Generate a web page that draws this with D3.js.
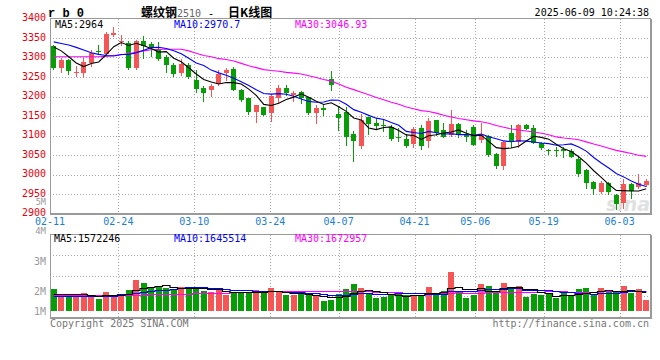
<!DOCTYPE html>
<html><head><meta charset="utf-8">
<script src="https://cdn.jsdelivr.net/npm/d3@7/dist/d3.min.js"></script>
<style>body{margin:0;background:#fff}svg{display:block}</style>
</head><body>
<svg id="c" width="660" height="360"></svg>
<script>
// ---------------- DATA ----------------
const dates = ["02-11","02-12","02-13","02-14","02-17","02-18","02-19","02-20","02-21","02-24","02-25","02-26","02-27","02-28",
"03-03","03-04","03-05","03-06","03-07","03-10","03-11","03-12","03-13","03-14","03-17","03-18","03-19","03-20","03-21","03-24","03-25","03-26","03-27","03-28","03-31",
"04-01","04-02","04-03","04-07","04-08","04-09","04-10","04-11","04-14","04-15","04-16","04-17","04-18","04-21","04-22","04-23","04-24","04-25","04-28","04-29","04-30",
"05-06","05-07","05-08","05-09","05-12","05-13","05-14","05-15","05-16","05-19","05-20","05-21","05-22","05-23","05-26","05-27","05-28","05-29","05-30",
"06-03","06-04","06-05","06-06","06-09"];
const open  = [3329,3273,3293,3261,3259,3287,3317,3309,3358,3340,3338,3273,3342,3334,3323,3300,3280,3261,3280,3242,3222,3216,3231,3260,3270,3217,3196,3160,3172,3157,3197,3221,3204,3211,3198,3157,3170,3244,3155,3160,3103,3073,3147,3131,3126,3123,3096,3092,3078,3119,3085,3140,3115,3102,3129,3102,3121,3089,3100,3052,3022,3106,3083,3126,3118,3080,3062,3063,3066,3060,3040,3011,2981,2956,2977,2948,2926,2975,2967,2974];
const high  = [3333,3299,3296,3278,3300,3320,3332,3366,3378,3357,3343,3344,3355,3339,3340,3306,3285,3296,3287,3268,3226,3233,3268,3274,3275,3219,3197,3178,3174,3206,3230,3230,3214,3214,3200,3177,3180,3266,3172,3172,3112,3155,3148,3146,3140,3126,3119,3103,3123,3126,3146,3140,3132,3166,3132,3115,3126,3132,3102,3055,3085,3126,3129,3129,3127,3083,3066,3070,3071,3065,3044,3013,2984,2983,2982,2951,2988,2979,3002,2988];
const low   = [3268,3260,3256,3250,3248,3276,3306,3306,3352,3329,3269,3269,3295,3302,3291,3261,3250,3252,3244,3210,3186,3200,3228,3240,3214,3187,3152,3131,3149,3134,3183,3202,3187,3180,3153,3129,3149,3214,3112,3074,3033,3065,3102,3114,3110,3085,3083,3069,3069,3063,3069,3100,3093,3097,3093,3083,3072,3080,3046,3015,3012,3068,3069,3115,3078,3064,3049,3045,3043,3042,2993,2964,2947,2951,2947,2910,2912,2938,2962,2968];
const close = [3274,3293,3266,3262,3289,3312,3314,3360,3364,3342,3274,3342,3329,3327,3297,3280,3257,3284,3250,3218,3209,3226,3258,3268,3217,3191,3161,3177,3153,3202,3221,3208,3208,3196,3157,3170,3166,3230,3146,3097,3085,3140,3129,3125,3124,3092,3093,3074,3117,3074,3138,3106,3097,3129,3102,3095,3076,3102,3050,3021,3083,3083,3126,3117,3082,3068,3060,3060,3061,3045,3002,2978,2962,2977,2955,2924,2975,2957,2977,2984];
const volume = [1834000,1310000,1310000,1327000,1454000,1310000,989000,1581000,1327000,1412000,1750000,2595000,2350000,1927000,1970000,1919000,1834000,2003000,2003000,1970000,
1690000,1581000,1919000,1352000,1496000,1496000,1581000,1775000,1496000,1919000,1631000,1293000,1352000,1412000,1352000,1268000,845000,930000,1412000,1860000,
2257000,1919000,1412000,1082000,1167000,1352000,1412000,1327000,1268000,1369000,2012000,1505000,1648000,3271000,1631000,1074000,1352000,2257000,2113000,1496000,
2342000,1919000,2113000,1158000,1437000,1336000,1378000,1082000,1488000,1226000,1843000,1919000,1336000,1919000,1564000,1564000,2050000,1488000,1843000,940000];
// moving-average values for the first days (earlier data not shown)
const ma5Head  = [3327,3317,3302,3286];
const ma10Head = [3340,3336,3332,3326,3319,3312,3308,3305,3304];
const ma30Head = [3302,3302,3302,3302,3302,3302,3302,3303,3305,3307,3310,3313,3317,3320,3321,3321,3321,3321,3317,3311,3305,3302,3297,3295,3291,3285,3279,3274,3269];
const vma5Head  = [1410000,1400000,1400000,1410000];
const vma10Head = [1240000,1240000,1240000,1250000,1250000,1260000,1260000,1270000,1280000];
const vma30Head = [1330000,1330000,1330000,1330000,1330000,1330000,1330000,1330000,1330000,1330000,1340000,1350000,1360000,1370000,1380000,1390000,1400000,1420000,1440000,1460000,1480000,1500000,1520000,1530000,1540000,1550000,1560000,1570000,1580000];
const dateTicks  = ["02-11","02-24","03-10","03-24","04-07","04-21","05-06","05-19","06-03"];
const priceTicks = [3400,3350,3300,3250,3200,3150,3100,3050,3000,2950,2900];
const volTickLabels = ["5M","4M","3M","2M","1M"];
const title = {code:"r b 0", name:"螺纹钢", contract:"2510", sep:" - ", kind:"日K线图", time:"2025-06-09 10:24:38"};
const maLabels = {p5:"MA5:2964", p10:"MA10:2970.7", p30:"MA30:3046.93", v5:"MA5:1572246", v10:"MA10:1645514", v30:"MA30:1672957"};
const footer = {left:"Copyright 2025 SINA.COM", right:"http://finance.sina.com.cn"};

// ---------------- LAYOUT ----------------
const L = 50, R = 650, PT = 18.5, PB = 213.5, VT = 234.5, VB = 317.5, VBase = 310.7;
const RED = "#f65556", GREEN = "#079d07", GRID = "#a8a8a8", BORDER = "#9a9a9a";
const MONO = "'DejaVu Sans Mono', 'Liberation Mono', monospace";
const svg = d3.select("#c");

const xb = d3.scaleBand().domain(dates).range([L, R]).paddingInner(0.3).paddingOuter(0.15);
const xg = d3.scalePoint().domain(dates).range([L, R]);
const xc = d => xb(d) + xb.bandwidth() / 2;
const yP = d3.scaleLinear().domain([2900, 3400]).range([PB, PT]);
const yV = d3.scaleLinear().domain([0, 1000000]).range([VBase, VBase - 11.83]);

function ma(arr, n, head) {
  return arr.map((_, i) => i < n - 1 ? head[i] : d3.mean(arr.slice(i - n + 1, i + 1)));
}
const crisp = v => Math.round(v) + 0.5;

// grid
const g = svg.append("g").attr("shape-rendering", "crispEdges");
priceTicks.slice(1, -1).forEach(t => {
  g.append("line").attr("x1", L).attr("x2", R).attr("y1", crisp(yP(t))).attr("y2", crisp(yP(t)))
    .attr("stroke", GRID).attr("stroke-dasharray", "1,2");
});
[255, 275.5, 296].forEach(y => {
  g.append("line").attr("x1", L).attr("x2", R).attr("y1", crisp(y)).attr("y2", crisp(y))
    .attr("stroke", GRID).attr("stroke-dasharray", "1,2");
});
dateTicks.slice(1).forEach(d => {
  const x = crisp(xg(d));
  g.append("line").attr("x1", x).attr("x2", x).attr("y1", PT).attr("y2", PB).attr("stroke", GRID).attr("stroke-dasharray", "1,2");
  g.append("line").attr("x1", x).attr("x2", x).attr("y1", VT).attr("y2", VB).attr("stroke", GRID).attr("stroke-dasharray", "1,2");
});

// watermark
svg.append("text").attr("x", 606).attr("y", 211).attr("font-family", "'DejaVu Sans', sans-serif")
  .attr("font-style", "italic").attr("font-weight", "bold").attr("font-size", 19)
  .attr("fill", "#d4d4d4").attr("opacity", 0.7).text("sina");

// candles
const cg = svg.append("g").attr("shape-rendering", "crispEdges");
dates.forEach((d, i) => {
  const up = close[i] >= open[i];
  const col = up ? RED : GREEN;
  const xl = Math.round(xc(d) - 2.5);
  cg.append("line").attr("x1", xl + 2.5).attr("x2", xl + 2.5)
    .attr("y1", yP(high[i])).attr("y2", yP(low[i])).attr("stroke", col);
  const yt = yP(Math.max(open[i], close[i])), yb = yP(Math.min(open[i], close[i]));
  cg.append("rect").attr("x", xl).attr("width", 5)
    .attr("y", Math.round(yt)).attr("height", Math.max(1, Math.round(yb) - Math.round(yt)))
    .attr("fill", col);
});

// volume bars
const vg = svg.append("g").attr("shape-rendering", "crispEdges");
dates.forEach((d, i) => {
  const up = close[i] >= open[i];
  const xl = Math.round(xc(d) - 2.8);
  const yt = Math.round(yV(volume[i]));
  vg.append("rect").attr("x", xl).attr("width", 6).attr("y", yt).attr("height", Math.round(VBase) - yt)
    .attr("fill", up ? RED : GREEN);
});

// MA lines
const idx = d3.range(dates.length);
const pLine = arr => d3.line().x(i => xc(dates[i])).y(i => yP(arr[i]))(idx);
const vLine = arr => d3.line().curve(d3.curveStep).x(i => xc(dates[i])).y(i => Math.round(yV(arr[i])) + 0.5)(idx);
[[ma(close, 30, ma30Head), "#ff00ff"], [ma(close, 10, ma10Head), "#0000ff"], [ma(close, 5, ma5Head), "#000"]]
  .forEach(([a, c]) => svg.append("path").attr("d", pLine(a)).attr("fill", "none").attr("stroke", c).attr("stroke-width", 1.1));
[[ma(volume, 30, vma30Head), "#ff00ff"], [ma(volume, 10, vma10Head), "#0000ff"], [ma(volume, 5, vma5Head), "#000"]]
  .forEach(([a, c]) => svg.append("path").attr("d", vLine(a)).attr("fill", "none").attr("stroke", c).attr("stroke-width", 1.2));

// borders
const bg = svg.append("g").attr("shape-rendering", "crispEdges").attr("fill", "none").attr("stroke", BORDER);
bg.append("rect").attr("x", L).attr("y", PT).attr("width", R - L).attr("height", PB - PT).attr("stroke-width", 1);
bg.append("rect").attr("x", L).attr("y", VT).attr("width", R - L).attr("height", VB - VT).attr("stroke-width", 1);
bg.append("line").attr("x1", R + 1).attr("x2", R + 1).attr("y1", PT).attr("y2", PB + 1);
bg.append("line").attr("x1", R + 1).attr("x2", R + 1).attr("y1", VT).attr("y2", VB + 1);
bg.append("line").attr("x1", L).attr("x2", R + 1).attr("y1", PB + 1).attr("y2", PB + 1);
bg.append("line").attr("x1", L).attr("x2", R + 1).attr("y1", VB + 1).attr("y2", VB + 1);

// texts
const txt = (x, y, s, col, anchor, size, extra) => {
  const t = svg.append("text").attr("x", x).attr("y", y).attr("fill", col).attr("font-family", MONO)
    .attr("font-size", size || 10).attr("text-anchor", anchor || "start").text(s);
  if (extra) extra(t);
  return t;
};
priceTicks.forEach(t => txt(46, yP(t) + 2.5, t, "#e8000b", "end"));
// volume labels sit where the reference puts them (partly beside the price axis)
const volLabelY = [205.2, 234.2, 264.5, 294.5, 314.5];
const volLabelSize = [8.5, 9, 10, 10, 10];
volTickLabels.forEach((s, k) => txt(46, volLabelY[k], s, "#9a9a9a", "end", volLabelSize[k]));
dateTicks.forEach(d => txt(xg(d), 225, d, "#1a80d4", "middle"));

txt(55, 28, maLabels.p5, "#000");
txt(174, 28, maLabels.p10, "#0000ff");
txt(295, 28, maLabels.p30, "#ff00ff");
txt(54, 242, maLabels.v5, "#000");
txt(174, 242, maLabels.v10, "#0000ff");
txt(295, 242, maLabels.v30, "#ff00ff");

txt(48, 16.5, title.code, "#000", "start", 12, t => t.attr("font-weight", "bold").attr("font-family", "'Liberation Mono', monospace"));
const tt = svg.append("text").attr("x", 141).attr("y", 16.5).attr("font-size", 12).attr("fill", "#000");
tt.append("tspan").attr("font-family", "'Noto Sans CJK SC', sans-serif").attr("font-weight", "bold").text(title.name);
tt.append("tspan").attr("font-family", MONO).attr("font-size", 10).attr("fill", "#666").text(title.contract);
tt.append("tspan").attr("font-family", MONO).attr("font-size", 11).attr("xml:space", "preserve").text(title.sep);
tt.append("tspan").attr("font-family", "'Noto Sans CJK SC', sans-serif").attr("font-weight", "bold").attr("x", 228).text(title.kind);
txt(649, 16, title.time, "#000", "end");

txt(50, 327, footer.left, "#777");
txt(649, 327, footer.right, "#777", "end");
</script>
</body></html>
